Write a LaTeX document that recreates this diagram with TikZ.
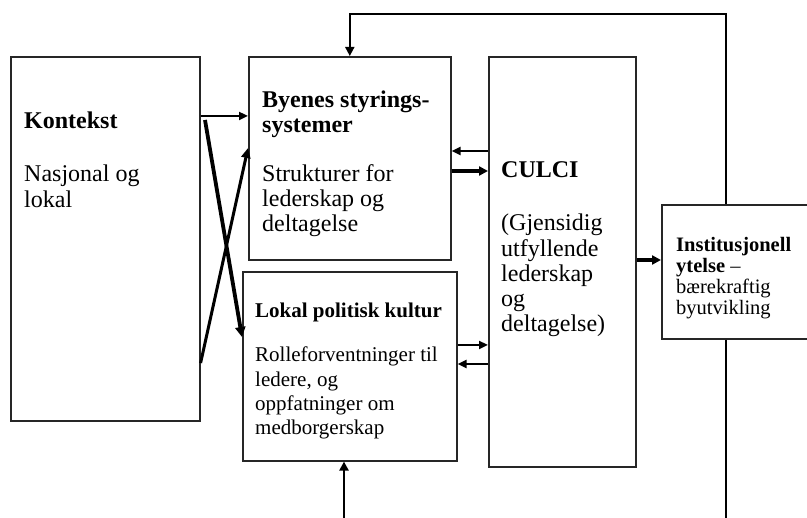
\documentclass[tikz,border=0pt]{standalone}
\usepackage{fontspec}
\setmainfont{Liberation Serif}
\usetikzlibrary{arrows.meta}
\begin{document}
\begin{tikzpicture}[x=1pt,y=-1pt,
  box/.style={draw=black!85,line width=1.6pt,inner sep=0pt,anchor=north west},
  txt/.style={inner sep=0pt,anchor=base west,text=black},
  arr/.style={line width=2.4pt,-{Triangle[length=9pt,width=8pt]}},
  thickarr/.style={line width=3.4pt,-{Triangle[length=9pt,width=9pt]}},
  fbline/.style={line width=1.8pt}]
\useasboundingbox[fill=white] (0,0) rectangle (807,518);
% boxes
\node[box,minimum width=189pt,minimum height=364pt] (K) at (10,56) {};
\node[box,minimum width=202pt,minimum height=203pt] (B) at (248,56) {};
\node[box,minimum width=214pt,minimum height=189pt] (L) at (242,271) {};
\node[box,minimum width=147pt,minimum height=410pt] (C) at (488,56) {};
\node[box,minimum width=147pt,minimum height=134pt] (I) at (661,204) {};
% texts
\node[txt] (kh) at (24,129) {\fontsize{24}{25}\selectfont\bfseries Kontekst};
\node[txt] (kt) at (24,182) {\vtop{\fontsize{24}{25.5}\selectfont\hbox{Nasjonal og}\hbox{lokal}}};
\node[txt] (bh) at (262,108) {\vtop{\fontsize{24}{25}\selectfont\bfseries\hbox{Byenes styrings-}\hbox{systemer}}};
\node[txt] (bt) at (262,182) {\vtop{\fontsize{24}{25}\selectfont\hbox{Strukturer for}\hbox{lederskap og}\hbox{deltagelse}}};
\node[txt] (lh) at (255,318) {\fontsize{21}{24}\selectfont\bfseries Lokal politisk kultur};
\node[txt] (lt) at (255,362) {\vtop{\fontsize{21}{24.3}\selectfont\hbox{Rolleforventninger til}\hbox{ledere, og}\hbox{oppfatninger om}\hbox{medborgerskap}}};
\node[txt] (ch) at (501,178) {\fontsize{24}{25}\selectfont\bfseries CULCI};
\node[txt] (ct) at (501,231) {\vtop{\fontsize{24}{25.25}\selectfont\hbox{(Gjensidig}\hbox{utfyllende}\hbox{lederskap}\hbox{og}\hbox{deltagelse)}}};
\node[txt] (it) at (676,252) {\vtop{\fontsize{20.5}{21}\selectfont\hbox{\bfseries Institusjonell}\hbox{\bfseries ytelse\normalfont{} –}\hbox{bærekraftig}\hbox{byutvikling}}};
% free-end coordinates
\coordinate (k1) at (205,120);
\coordinate (fb) at (726,14);
\coordinate (bot1) at (726,518);
\coordinate (bot2) at (344,518);
% connectors
\draw[arr] (K.east |- 0,116) -- (B.west |- 0,116);
\draw[line width=3.8pt,-{Triangle[length=10pt,width=10pt]}] (k1) -- (L.west |- 0,337);
\draw[line width=3pt,-{Triangle[length=10pt,width=9pt]}] (K.east |- 0,363) -- (B.west |- 0,148);
\draw[arr] (C.west |- 0,151) -- (B.east |- 0,151);
\draw[thickarr] (B.east |- 0,171) -- (C.west |- 0,171);
\draw[arr] (L.east |- 0,345) -- (C.west |- 0,345);
\draw[arr] (C.west |- 0,364) -- (L.east |- 0,364);
\draw[thickarr] (C.east |- 0,260) -- (I.west |- 0,260);
\draw[fbline,-{Triangle[length=9pt,width=9pt]}] (fb |- I.north) -- (fb) -- (fb -| B.north) -- (B.north);
\draw[fbline] (bot1 |- I.south) -- (bot1);
\draw[line width=2.4pt,-{Triangle[length=9pt,width=9pt]}] (bot2) -- (bot2 |- L.south);
\end{tikzpicture}
\end{document}
